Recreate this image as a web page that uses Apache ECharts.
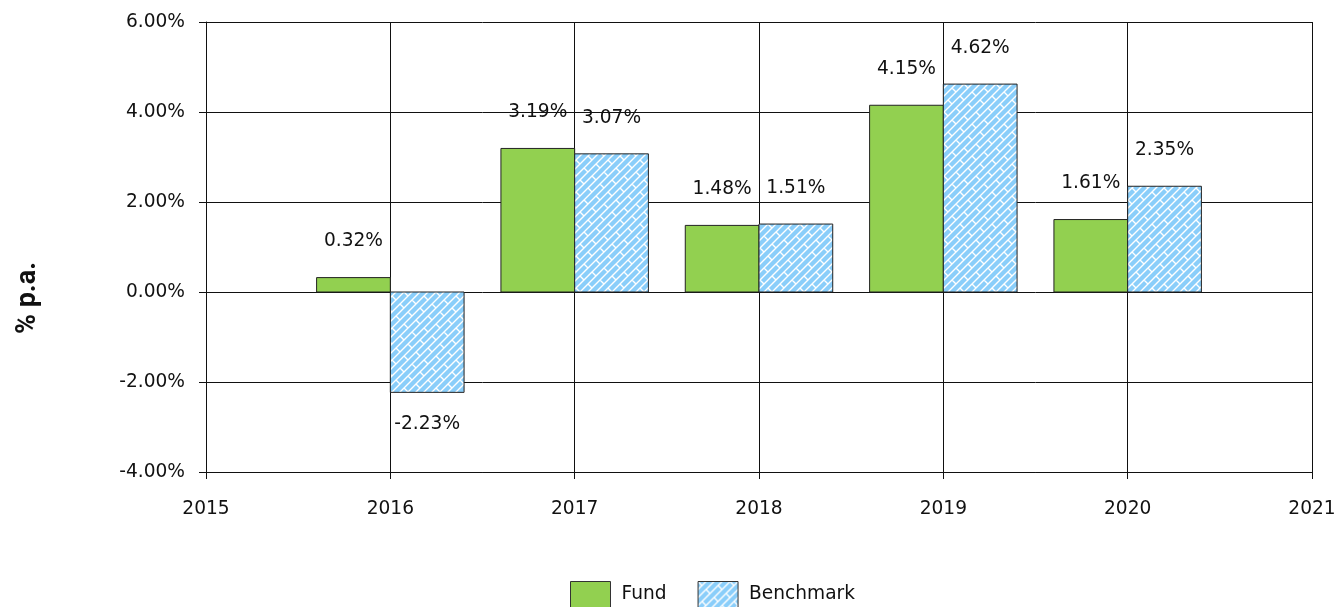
<!DOCTYPE html>
<html>
<head>
<meta charset="utf-8">
<script src="https://cdn.jsdelivr.net/npm/echarts@6/dist/echarts.min.js"></script>
<style>html,body{margin:0;padding:0;background:#fff}#c{width:1343px;height:607px}</style>
</head>
<body>
<div id="c"></div>
<script>
const years = [2016, 2017, 2018, 2019, 2020];
const fund = [0.32, 3.19, 1.48, 4.15, 1.61];
const bench = [-2.23, 3.07, 1.51, 4.62, 2.35];
const xMin = 2015, xMax = 2021;
const yMin = -4, yMax = 6, yStep = 2;

function makePattern() {
  const s = 32;
  const c = document.createElement('canvas');
  c.width = s; c.height = s;
  const g = c.getContext('2d');
  g.fillStyle = '#8ACEFA';
  g.fillRect(0, 0, s, s);
  g.strokeStyle = '#ffffff';
  g.lineWidth = 1.4;
  g.beginPath();
  for (let k = -8; k <= 16; k++) {
    const cc = 8 * k;
    g.moveTo(cc + 2, -2); g.lineTo(cc - s - 2, s + 2);
  }
  for (let k = -8; k <= 16; k++) {
    for (let m = -4; m <= 4; m++) {
      const d = 16 * k + 32 * m;
      const c0 = 8 * k;
      const x0 = (c0 + d) / 2, y0 = (c0 - d) / 2;
      g.moveTo(x0, y0); g.lineTo(x0 + 4, y0 + 4);
    }
  }
  g.stroke();
  return c;
}
const pattern = { image: makePattern(), repeat: 'repeat' };
const fundColor = '#92D050';
const font = '"DejaVu Sans", Verdana, sans-serif';
const fs = 18.6;

function makeRender(side, fill) {
  return function (params, api) {
    const x = api.value(0), v = api.value(1);
    const xa = side < 0 ? x - 0.4 : x;
    const xb = side < 0 ? x : x + 0.4;
    const p0 = api.coord([xa, 0]);
    const p1 = api.coord([xb, v]);
    const left = Math.min(p0[0], p1[0]);
    const top = Math.min(p0[1], p1[1]);
    const w = Math.abs(p1[0] - p0[0]);
    const h = Math.abs(p1[1] - p0[1]);
    const cx = left + w / 2;
    const ly = v >= 0 ? top - 36 : top + h + 32;
    return {
      type: 'group',
      children: [
        { type: 'rect', shape: { x: left, y: top, width: w, height: h },
          style: { fill: fill, stroke: '#222', lineWidth: 1 } },
        { type: 'text', style: { text: v.toFixed(2) + '%', x: cx, y: ly, align: 'center', verticalAlign: 'middle',
          fontSize: fs, fontFamily: font, fill: '#111' } }
      ]
    };
  };
}

const chart = echarts.init(document.getElementById('c'), null, { renderer: 'canvas' });
chart.setOption({
  animation: false,
  backgroundColor: '#fff',
  grid: { left: 206, right: 31, top: 22, bottom: 135, containLabel: false },
  xAxis: {
    type: 'value', min: xMin, max: xMax, interval: 1,
    axisLine: { show: true, onZero: false, lineStyle: { color: '#111', width: 1 } },
    axisTick: { show: true, length: 7, lineStyle: { color: '#111' } },
    splitLine: { show: true, lineStyle: { color: '#111', width: 1 } },
    axisLabel: { color: '#111', fontSize: fs, fontFamily: font, margin: 28, formatter: v => String(v) }
  },
  yAxis: {
    type: 'value', min: yMin, max: yMax, interval: yStep,
    axisLine: { show: true, lineStyle: { color: '#111', width: 1 } },
    axisTick: { show: true, length: 7, lineStyle: { color: '#111' } },
    splitLine: { show: true, lineStyle: { color: '#111', width: 1 } },
    axisLabel: { color: '#111', fontSize: fs, fontFamily: font, margin: 21, formatter: v => v.toFixed(2) + '%' }
  },
  legend: {
    top: 581, left: 570, padding: 0,
    itemWidth: 40, itemHeight: 26, itemGap: 31,
    textStyle: { color: '#111', fontSize: fs, fontFamily: font, padding: [0, 0, 0, 6] },
    data: [
      { name: 'Fund', icon: 'rect', itemStyle: { color: fundColor, borderColor: '#333', borderWidth: 1 } },
      { name: 'Benchmark', icon: 'rect', itemStyle: { color: pattern, borderColor: '#333', borderWidth: 1 } }
    ]
  },
  graphic: [{
    type: 'text', x: 28, y: 298, rotation: Math.PI / 2,
    style: { text: '% p.a.', fontSize: 27, fontWeight: 'bold', fontFamily: 'Roboto, "Noto Sans", sans-serif',
      fill: '#111', align: 'center', verticalAlign: 'middle' }
  }],
  series: [
    { name: 'Fund', type: 'custom', itemStyle: { color: fundColor, borderColor: '#333', borderWidth: 1 },
      renderItem: makeRender(-1, fundColor), data: years.map((y, i) => [y, fund[i]]) },
    { name: 'Benchmark', type: 'custom', itemStyle: { color: pattern, borderColor: '#333', borderWidth: 1 },
      renderItem: makeRender(1, pattern), data: years.map((y, i) => [y, bench[i]]) }
  ]
});
</script>
</body>
</html>
